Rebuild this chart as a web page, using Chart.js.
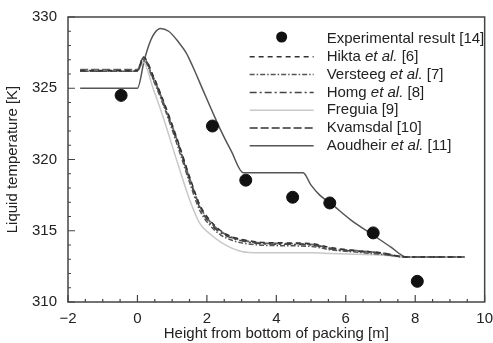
<!DOCTYPE html>
<html>
<head>
<meta charset="utf-8">
<script src="https://cdn.jsdelivr.net/npm/chart.js@4"></script>
<style>
  body { margin: 0; background: #fff; }
  #box { width: 493px; height: 343px; }
</style>
</head>
<body>
<div id="box"><canvas id="tempChart"></canvas></div>
<script>
// experimental points
const expX = [-0.47, 2.16, 3.12, 4.47, 5.54, 6.79, 8.06];
const expY = [324.5, 322.35, 318.55, 317.35, 316.95, 314.85, 311.45];

// model curves share the same heights
const modelX = [-1.65, 0, 0.17, 0.45, 0.75, 1.15, 1.5, 1.8, 2.1, 2.4, 2.7, 3.0, 3.5, 4.2, 5.0, 5.6, 6.3, 7.0, 7.75, 9.42];
const hiktaY    = [326.25, 326.25, 327.2, 325.9, 324.1, 321.4, 318.8, 316.8, 315.7, 315.0, 314.6, 314.4, 314.2, 314.15, 314.1, 313.8, 313.6, 313.45, 313.16, 313.16];
const versteegY = [326.2, 326.2, 327.0, 325.6, 323.8, 321.0, 318.4, 316.4, 315.35, 314.7, 314.35, 314.15, 314.0, 313.95, 313.9, 313.65, 313.5, 313.35, 313.16, 313.16];
const homgY     = [326.2, 326.2, 327.1, 325.7, 323.9, 321.2, 318.6, 316.6, 315.5, 314.85, 314.5, 314.3, 314.1, 314.05, 314.0, 313.7, 313.55, 313.4, 313.16, 313.16];
const freguiaY  = [326.2, 326.2, 326.8, 325.0, 322.9, 319.8, 317.2, 315.5, 314.75, 314.2, 313.8, 313.55, 313.45, 313.45, 313.45, 313.4, 313.35, 313.3, 313.16, 313.16];
const kvamsdalY = [326.3, 326.3, 327.15, 325.8, 324.0, 321.3, 318.7, 316.7, 315.6, 314.95, 314.55, 314.35, 314.15, 314.1, 314.05, 313.75, 313.6, 313.45, 313.16, 313.16];

// Aoudheir et al. curve
const aoudX = [-1.65, 0, 0.2, 0.37, 0.5, 0.66, 0.9, 1.18, 1.4, 1.58, 1.9, 2.15, 2.39, 2.7, 3.05, 4.77, 5.0, 5.25, 5.55, 6.15, 6.79, 7.3, 7.75, 9.42];
const aoudY = [325.0, 325.0, 327.0, 328.3, 328.9, 329.2, 329.0, 328.25, 327.5, 326.6, 324.8, 323.4, 322.1, 320.6, 319.07, 319.07, 318.2, 317.5, 316.95, 315.75, 314.7, 313.85, 313.16, 313.16];

const xTicks = [-2, 0, 2, 4, 6, 8, 10];
const yTicks = [310, 315, 320, 325, 330];

const FONT = 'Liberation Sans, Arial, sans-serif';

function pts(xs, ys) {
    return xs.map(function(x, i) { return {x: x, y: ys[i]}; });
}

function lineSet(label, ys, color, dash, width, xs) {
    return {
        label: label,
        data: pts(xs || modelX, ys),
        showLine: true,
        borderColor: color,
        borderDash: dash,
        borderWidth: width,
        pointRadius: 0,
        cubicInterpolationMode: 'monotone'
    };
}

// legend entries: text parts, [text, italic]
const legendParts = [
    [['Experimental result [14]', false]],
    [['Hikta ', false], ['et al.', true], [' [6]', false]],
    [['Versteeg ', false], ['et al.', true], [' [7]', false]],
    [['Homg ', false], ['et al.', true], [' [8]', false]],
    [['Freguia [9]', false]],
    [['Kvamsdal [10]', false]],
    [['Aoudheir ', false], ['et al.', true], [' [11]', false]]
];

const framePlugin = {
    id: 'frame',
    afterDraw: function(chart) {
        const ctx = chart.ctx;
        const a = chart.chartArea;
        const xs = chart.scales.x, ys = chart.scales.y;
        ctx.save();
        ctx.strokeStyle = '#444';
        ctx.lineWidth = 1.5;
        ctx.strokeRect(a.left, a.top, a.right - a.left, a.bottom - a.top);
        ctx.lineWidth = 1.2;
        ctx.beginPath();
        for (let v = -2; v <= 10.001; v += 0.5) {
            const p = xs.getPixelForValue(v);
            const len = (Math.abs(v % 2) < 0.01) ? 7 : 3;
            ctx.moveTo(p, a.bottom);
            ctx.lineTo(p, a.bottom - len);
        }
        for (let v = 310; v <= 330; v += 1) {
            const p = ys.getPixelForValue(v);
            const len = (v % 5 === 0) ? 7 : 3;
            ctx.moveTo(a.left, p);
            ctx.lineTo(a.left + len, p);
        }
        ctx.stroke();

        // legend
        const sx0 = a.right - 235, sx1 = a.right - 171, tx = a.right - 158;
        let y = a.top + 22;
        ctx.font = '15px ' + FONT;
        ctx.textBaseline = 'middle';
        chart.data.datasets.forEach(function(ds, i) {
            if (i === 0) {
                ctx.beginPath();
                ctx.fillStyle = '#111';
                ctx.arc((sx0 + sx1) / 2, y - 2, 5.5, 0, Math.PI * 2);
                ctx.fill();
            } else {
                ctx.beginPath();
                ctx.strokeStyle = ds.borderColor;
                ctx.lineWidth = ds.borderWidth;
                ctx.setLineDash(ds.borderDash || []);
                ctx.moveTo(sx0, y);
                ctx.lineTo(sx1, y);
                ctx.stroke();
                ctx.setLineDash([]);
            }
            let x = tx;
            ctx.fillStyle = '#222';
            legendParts[i].forEach(function(part) {
                ctx.font = (part[1] ? 'italic ' : '') + '15px ' + FONT;
                ctx.fillText(part[0], x, y);
                x += ctx.measureText(part[0]).width;
            });
            y += 17.8;
        });
        ctx.restore();
    }
};

function drawChart() {
    const ctx = document.getElementById('tempChart').getContext('2d');
    new Chart(ctx, {
        type: 'scatter',
        data: {
            datasets: [
                {
                    label: 'Experimental result [14]',
                    data: pts(expX, expY),
                    pointRadius: 6,
                    pointBackgroundColor: '#111',
                    pointBorderColor: '#111',
                    showLine: false
                },
                lineSet('Hikta et al. [6]', hiktaY, '#333', [5, 4], 1.5),
                lineSet('Versteeg et al. [7]', versteegY, '#555', [5, 2, 1.5, 2], 1.5),
                lineSet('Homg et al. [8]', homgY, '#444', [7, 3, 2, 3], 1.5),
                lineSet('Freguia [9]', freguiaY, '#c8c8c8', [], 1.5),
                lineSet('Kvamsdal [10]', kvamsdalY, '#666', [8, 3], 1.8),
                lineSet('Aoudheir et al. [11]', aoudY, '#555', [], 1.5, aoudX)
            ]
        },
        options: {
            responsive: true,
            maintainAspectRatio: false,
            animation: false,
            layout: { padding: { top: 17, right: 0, left: 0, bottom: 0 } },
            plugins: { legend: { display: false }, tooltip: { enabled: false } },
            scales: {
                x: {
                    type: 'linear',
                    min: -2, max: 10,
                    afterBuildTicks: function(s) { s.ticks = xTicks.map(function(v) { return {value: v}; }); },
                    afterFit: function(s) { s.height = 41; },
                    grid: { display: false },
                    border: { display: false },
                    ticks: {
                        color: '#222', padding: 0,
                        font: { family: FONT, size: 15 },
                        callback: function(v) { return v < 0 ? '\u2212' + Math.abs(v) : String(v); }
                    },
                    title: {
                        display: true, text: 'Height from bottom of packing [m]',
                        color: '#222', font: { family: FONT, size: 15 }, padding: { top: 0, bottom: 0 }
                    }
                },
                y: {
                    min: 310, max: 330,
                    afterBuildTicks: function(s) { s.ticks = yTicks.map(function(v) { return {value: v}; }); },
                    afterFit: function(s) { s.width = 68; },
                    grid: { display: false },
                    border: { display: false },
                    ticks: { color: '#222', padding: 3, font: { family: FONT, size: 15 } },
                    title: {
                        display: true, text: 'Liquid temperature [K]',
                        color: '#222', font: { family: FONT, size: 15 }, padding: { top: 4, bottom: 0 }
                    }
                }
            }
        },
        plugins: [framePlugin]
    });
}

drawChart();
</script>
</body>
</html>
